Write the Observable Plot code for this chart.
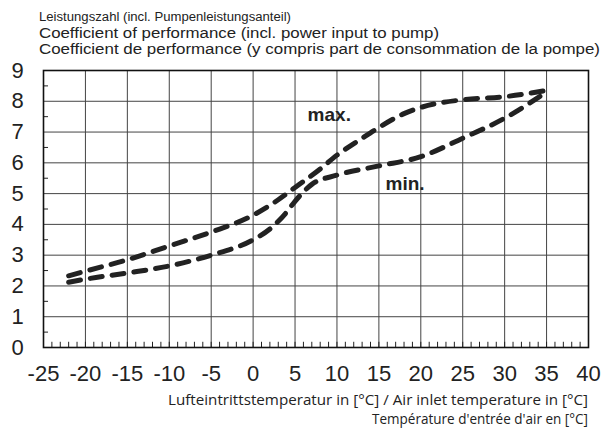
<!DOCTYPE html>
<html><head><meta charset="utf-8">
<script src="https://cdn.jsdelivr.net/npm/d3@7"></script>
<script src="https://cdn.jsdelivr.net/npm/@observablehq/plot@0.6"></script>
<style>
body{margin:0;background:#fff;}
#wrap{position:relative;width:603px;height:432px;overflow:hidden;}
#wrap svg.ov{position:absolute;left:0;top:0;}
</style></head><body><div id="wrap"></div>
<script>
// Data
const tempMax = [-22, -20, -15, -10, -5, 0, 3, 5, 8, 10, 13, 15, 18, 20, 25, 30, 35];
const copMax  = [2.33, 2.48, 2.85, 3.3, 3.75, 4.3, 4.8, 5.2, 5.8, 6.25, 6.8, 7.15, 7.6, 7.8, 8.05, 8.15, 8.35];
const tempMin = [-22, -20, -15, -10, -5, 0, 2, 4, 5, 7, 10, 15, 20, 25, 30, 35];
const copMin  = [2.12, 2.22, 2.42, 2.65, 3.0, 3.5, 3.85, 4.4, 4.75, 5.3, 5.6, 5.9, 6.2, 6.8, 7.45, 8.3];
const xTicks = [-25, -20, -15, -10, -5, 0, 5, 10, 15, 20, 25, 30, 35, 40];
const yTicks = [0, 1, 2, 3, 4, 5, 6, 7, 8, 9];
const seriesLabels = ["max.", "min."];
const labelTemp = [6.5, 15.8];
const labelCop = [7.55, 5.3];
const titleLines = [
  "Leistungszahl (incl. Pumpenleistungsanteil)",
  "Coefficient of performance (incl. power input to pump)",
  "Coefficient de performance (y compris part de consommation de la pompe)"
];
const xTitleLines = [
  "Lufteintrittstemperatur in [°C] / Air inlet temperature in [°C]",
  "Température d'entrée d'air en [°C]"
];

const maxData = tempMax.map((t, i) => ({t, v: copMax[i]}));
const minData = tempMin.map((t, i) => ({t, v: copMin[i]}));
const labelData = seriesLabels.map((s, i) => ({s, t: labelTemp[i], v: labelCop[i]}));
const minorX = d3.range(xTicks[0], xTicks[xTicks.length - 1] + 1, 1);
const minorY = yTicks.slice(0, -1).map(d => d + 0.5);

const lineStyle = {x: "t", y: "v", stroke: "#222", strokeWidth: 5, strokeDasharray: "12,10", strokeLinecap: "round", curve: "monotone-x"};

const chart = Plot.plot({
  width: 603, height: 432,
  marginLeft: 43, marginRight: 15, marginTop: 70, marginBottom: 85,
  style: {fontFamily: "'Liberation Sans', Arial, sans-serif", color: "#222", background: "#fff"},
  x: {domain: [-25, 40]},
  y: {domain: [0, 9]},
  marks: [
    Plot.ruleX(xTicks, {x: d => d, stroke: "#444", strokeWidth: 1}),
    Plot.ruleY(yTicks, {y: d => d, stroke: "#444", strokeWidth: 1}),
    Plot.ruleX(minorX, {x: d => d, y1: 0, y2: 0.17, stroke: "#222"}),
    Plot.ruleY(minorY, {y: d => d, x1: -25, x2: -24.4, stroke: "#222"}),
    Plot.frame({stroke: "#111", strokeWidth: 1.6}),
    Plot.axisX(xTicks, {tickSize: 0, tickPadding: 18, fontSize: 22, fill: "#222", label: null, tickFormat: d => String(d)}),
    Plot.axisY(yTicks, {tickSize: 0, tickPadding: 26, textAnchor: "middle", fontSize: 22, fill: "#222", label: null, tickFormat: d => String(d)}),
    Plot.line(maxData, lineStyle),
    Plot.line(minData, lineStyle),
    Plot.text(labelData, {x: "t", y: "v", text: "s", textAnchor: "start", fontWeight: "bold", fontSize: 19, fill: "#222"})
  ]
});
const wrap = document.getElementById("wrap");
wrap.appendChild(chart);

// Overlay for title and axis title texts
const ns = "http://www.w3.org/2000/svg";
const ov = document.createElementNS(ns, "svg");
ov.setAttribute("class", "ov");
ov.setAttribute("width", 603); ov.setAttribute("height", 432);
function addText(str, x, y, size, family, anchor, len) {
  const t = document.createElementNS(ns, "text");
  t.setAttribute("x", x); t.setAttribute("y", y);
  t.setAttribute("font-size", size); t.setAttribute("font-family", family);
  t.setAttribute("fill", "#222");
  if (anchor) t.setAttribute("text-anchor", anchor);
  if (len) { t.setAttribute("textLength", len); t.setAttribute("lengthAdjust", "spacingAndGlyphs"); }
  t.textContent = str;
  ov.appendChild(t);
}
const sans = "'Liberation Sans', Arial, sans-serif";
addText(titleLines[0], 39, 21, 12.5, sans, null, 252);
addText(titleLines[1], 39, 38, 15.5, sans, null, 400);
addText(titleLines[2], 39, 54, 15.5, sans, null, 561);
addText(xTitleLines[0], 588, 405, 14, "'Open Sans', sans-serif", "end", 420);
addText(xTitleLines[1], 588, 424, 14, "'Open Sans', sans-serif", "end", 216);
wrap.appendChild(ov);
</script></body></html>
